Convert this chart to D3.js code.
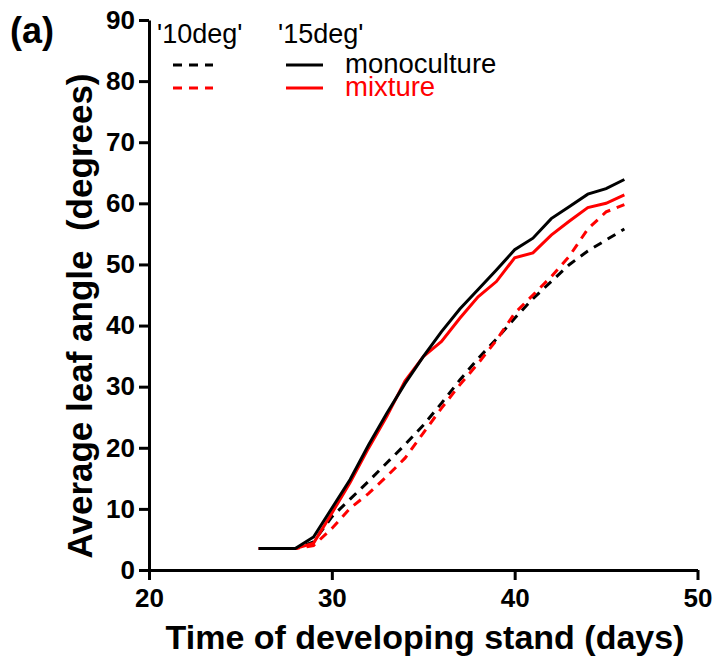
<!DOCTYPE html>
<html>
<head>
<meta charset="utf-8">
<script src="https://cdn.jsdelivr.net/npm/d3@7"></script>
<style>
  body { margin: 0; background: #fff; }
  svg { font-family: "Liberation Sans", Arial, sans-serif; }
</style>
</head>
<body>
<svg width="715" height="665"></svg>
<script>
const days = [26, 27, 28, 29, 30, 31, 32, 33, 34, 35, 36, 37, 38, 39, 40, 41, 42, 43, 44, 45, 46];

// '15deg' runs (solid)
const mono15 = [3.5, 3.5, 3.5, 5.4, 10.1, 14.8, 20.4, 25.6, 30.5, 34.9, 39.0, 42.7, 45.9, 49.1, 52.4, 54.3, 57.5, 59.5, 61.5, 62.4, 63.9];
const mix15 = [3.5, 3.5, 3.5, 4.4, 9.3, 14.3, 19.9, 25.1, 30.9, 34.9, 37.4, 41.2, 44.7, 47.2, 51.1, 51.9, 54.8, 57.1, 59.3, 60.0, 61.4];
// '10deg' runs (dashed)
const mono10 = [3.5, 3.5, 3.5, 4.6, 8.7, 11.6, 14.5, 17.5, 20.5, 23.7, 27.3, 31.1, 34.6, 37.8, 41.2, 44.4, 47.2, 50.0, 52.2, 54.0, 55.8];
const mix10 = [3.5, 3.5, 3.5, 4.0, 6.8, 10.1, 12.5, 15.3, 18.3, 22.4, 26.5, 30.3, 33.8, 37.6, 42.0, 45.0, 48.0, 51.4, 55.8, 58.6, 59.8];

const xTicks = [20, 30, 40, 50];
const yTicks = [0, 10, 20, 30, 40, 50, 60, 70, 80, 90];

const series = [
    { name: "mono10", values: mono10, color: "#000", dashed: true },
    { name: "mix10", values: mix10, color: "#ff0000", dashed: true },
    { name: "mix15", values: mix15, color: "#ff0000", dashed: false },
    { name: "mono15", values: mono15, color: "#000", dashed: false }
];

const svg = d3.select("svg");

const x = d3.scaleLinear().domain([20, 50]).range([149, 697.5]);
const y = d3.scaleLinear().domain([0, 90]).range([570, 20]);

// axes
const xAxis = svg.append("g")
    .attr("transform", "translate(0,570)")
    .call(d3.axisBottom(x).tickValues(xTicks).tickSize(10).tickSizeOuter(0).tickPadding(9));

const yAxis = svg.append("g")
    .attr("transform", "translate(149,0)")
    .call(d3.axisLeft(y).tickValues(yTicks).tickSize(10).tickSizeOuter(0).tickPadding(4));

[xAxis, yAxis].forEach(g => {
    g.select(".domain").attr("stroke", "#000").attr("stroke-width", 3);
    g.selectAll(".tick line").attr("stroke", "#000").attr("stroke-width", 3);
    g.selectAll(".tick text")
        .attr("fill", "#000")
        .style("font-size", "26px")
        .style("font-weight", "bold")
        .style("font-family", "'Liberation Sans', Arial, sans-serif");
});

// lines
const line = d3.line()
    .x((d, i) => x(days[i]))
    .y(d => y(d));

svg.append("g").selectAll("path")
    .data(series)
    .enter()
    .append("path")
    .attr("d", d => line(d.values))
    .attr("fill", "none")
    .attr("stroke", d => d.color)
    .attr("stroke-width", 3)
    .attr("stroke-dasharray", d => d.dashed ? "9,7" : null);

// axis titles
svg.append("text")
    .attr("x", 425)
    .attr("y", 649)
    .attr("text-anchor", "middle")
    .style("font-size", "34px")
    .style("font-weight", "bold")
    .text("Time of developing stand (days)");

svg.append("text")
    .attr("transform", "translate(92,316) rotate(-90)")
    .attr("text-anchor", "middle")
    .style("font-size", "35px")
    .style("font-weight", "bold")
    .style("white-space", "pre")
    .text("Average leaf angle  (degrees)");

// panel label
svg.append("text")
    .attr("x", 10)
    .attr("y", 43)
    .style("font-size", "36px")
    .style("font-weight", "bold")
    .text("(a)");

// legend
const legend = svg.append("g");
legend.append("text").attr("x", 157).attr("y", 43).style("font-size", "27px").text("'10deg'");
legend.append("text").attr("x", 278).attr("y", 43).style("font-size", "27px").text("'15deg'");

const legendRows = [
    { label: "monoculture", color: "#000", y: 65 },
    { label: "mixture", color: "#ff0000", y: 88 }
];

legendRows.forEach(r => {
    legend.append("line")
        .attr("x1", 173).attr("x2", 213).attr("y1", r.y).attr("y2", r.y)
        .attr("stroke", r.color).attr("stroke-width", 3)
        .attr("stroke-dasharray", "9,7");
    legend.append("line")
        .attr("x1", 286).attr("x2", 323).attr("y1", r.y).attr("y2", r.y)
        .attr("stroke", r.color).attr("stroke-width", 3);
    legend.append("text")
        .attr("x", 345).attr("y", r.y + 8)
        .attr("fill", r.color)
        .style("font-size", "27.5px")
        .text(r.label);
});
</script>
</body>
</html>
